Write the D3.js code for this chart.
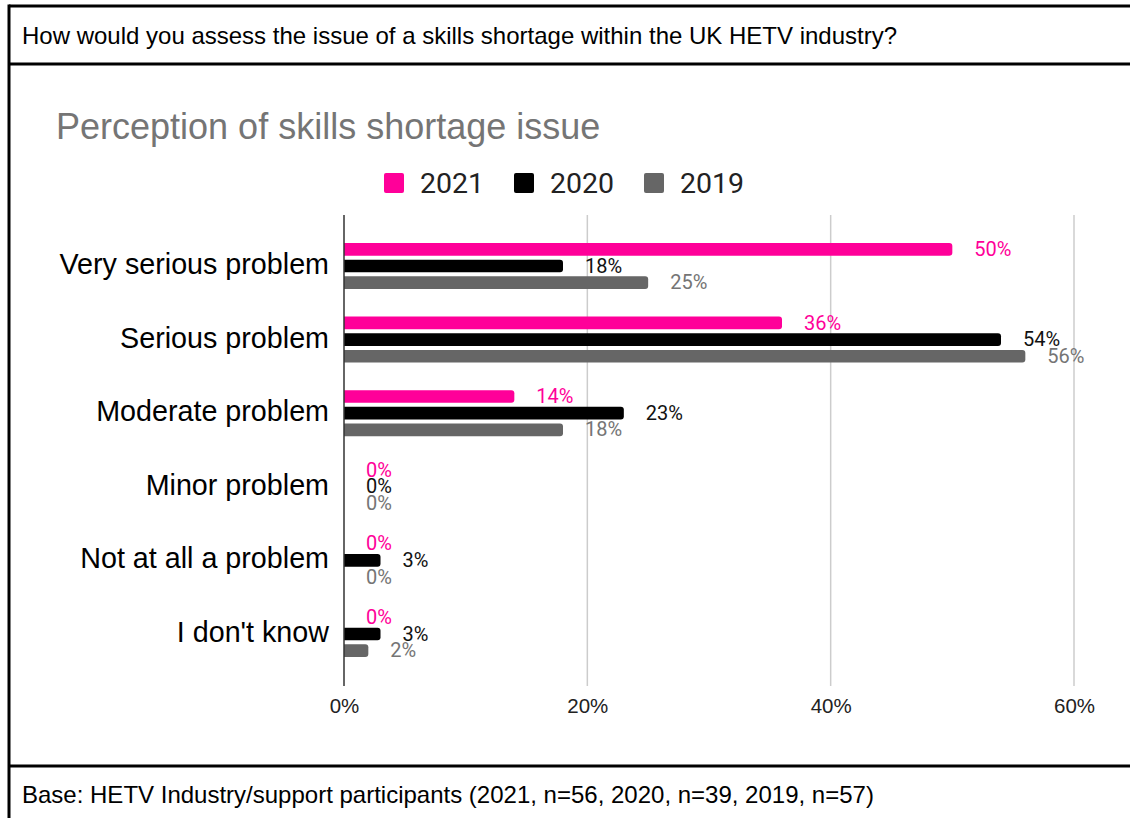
<!DOCTYPE html>
<html>
<head>
<meta charset="utf-8">
<script src="https://cdn.jsdelivr.net/npm/d3@7"></script>
<style>
  html, body { margin: 0; padding: 0; background: #fff; }
  svg { display: block; }
</style>
</head>
<body>
<svg id="chart" width="1130" height="818"></svg>
<script>
// Survey answers and the share of respondents (in %) for each year
const categories = [
  "Very serious problem",
  "Serious problem",
  "Moderate problem",
  "Minor problem",
  "Not at all a problem",
  "I don't know"
];
const seriesNames = ["2021", "2020", "2019"];
const values2021 = [50, 36, 14, 0, 0, 0];
const values2020 = [18, 54, 23, 0, 3, 3];
const values2019 = [25, 56, 18, 0, 0, 2];
const xTicks = [0, 20, 40, 60];

const questionText = "How would you assess the issue of a skills shortage within the UK HETV industry?";
const chartTitle = "Perception of skills shortage issue";
const baseText = "Base: HETV Industry/support participants (2021, n=56, 2020, n=39, 2019, n=57)";

const barColors = { "2021": "#ff0099", "2020": "#000000", "2019": "#666666" };
const labelColors = { "2021": "#ff0099", "2020": "#111111", "2019": "#757575" };

const seriesValues = { "2021": values2021, "2020": values2020, "2019": values2019 };

const svg = d3.select("#chart");
const W = 1130, H = 818;

// Frame lines of the table-like layout
const frame = svg.append("g").attr("stroke", "#000").attr("stroke-width", 3);
frame.append("line").attr("x1", 9).attr("x2", W).attr("y1", 6).attr("y2", 6);
frame.append("line").attr("x1", 9).attr("x2", W).attr("y1", 64).attr("y2", 64);
frame.append("line").attr("x1", 9).attr("x2", W).attr("y1", 766).attr("y2", 766);
frame.append("line").attr("x1", 9).attr("x2", 9).attr("y1", 4.5).attr("y2", H);

svg.append("text")
  .attr("x", 22).attr("y", 44)
  .attr("font-family", "Liberation Sans, Arial, sans-serif")
  .attr("font-size", 24)
  .attr("fill", "#000")
  .text(questionText);

svg.append("text")
  .attr("x", 22).attr("y", 803)
  .attr("font-family", "Liberation Sans, Arial, sans-serif")
  .attr("font-size", 24)
  .attr("fill", "#000")
  .text(baseText);

// Chart title
svg.append("text")
  .attr("x", 56).attr("y", 139)
  .attr("font-family", "Liberation Sans, Arial, sans-serif")
  .attr("font-size", 36)
  .attr("fill", "#757575")
  .text(chartTitle);

// Legend
const legend = svg.append("g").attr("transform", "translate(384,173)");
const legendItem = legend.selectAll("g").data(seriesNames).join("g")
  .attr("transform", (d, i) => `translate(${i * 130},0)`);
legendItem.append("rect")
  .attr("width", 20).attr("height", 20).attr("rx", 2)
  .attr("fill", d => barColors[d]);
legendItem.append("text")
  .attr("x", 36).attr("y", 20)
  .attr("font-family", "Roboto, sans-serif")
  .attr("font-size", 28.5)
  .attr("fill", "#222")
  .text(d => d);

// Scales
const x = d3.scaleLinear().domain([0, 60]).range([344, 1074]);
const y = d3.scaleBand().domain(categories)
  .range([229.2, 670.8]).paddingInner(0.375).paddingOuter(0.1875);
const ySub = d3.scaleBand().domain(seriesNames)
  .range([0, y.bandwidth()]).paddingInner(0.24).paddingOuter(0);

const gridTop = 215, gridBottom = 686;

// Vertical gridlines
svg.append("g").selectAll("line").data(xTicks.filter(t => t !== 0)).join("line")
  .attr("x1", d => x(d)).attr("x2", d => x(d))
  .attr("y1", gridTop).attr("y2", gridBottom)
  .attr("stroke", "#cccccc").attr("stroke-width", 1.5);

// Tick labels via a bottom axis without its domain/tick lines
const xAxis = d3.axisBottom(x).tickValues(xTicks).tickSize(0).tickPadding(0)
  .tickFormat(d => d + "%");
const axisG = svg.append("g").attr("transform", `translate(0,${gridBottom + 27})`).call(xAxis);
axisG.select(".domain").remove();
axisG.selectAll("text")
  .attr("dy", 0)
  .attr("font-family", "Liberation Sans, Arial, sans-serif")
  .attr("font-size", 20.5)
  .attr("fill", "#222");

// Category labels
svg.append("g").selectAll("text").data(categories).join("text")
  .attr("x", 329)
  .attr("y", d => y(d) + y.bandwidth() / 2 + 8)
  .attr("text-anchor", "end")
  .attr("font-family", "Liberation Sans, Arial, sans-serif")
  .attr("font-size", 28.7)
  .attr("fill", "#000")
  .text(d => d);

// Flattened bar records
const records = [];
categories.forEach((c, ci) => {
  seriesNames.forEach(s => {
    records.push({ category: c, series: s, value: seriesValues[s][ci] });
  });
});

// Bars with rounded right ends
function barPath(d) {
  const x0 = x(0), x1 = x(d.value);
  const y0 = y(d.category) + ySub(d.series);
  const h = ySub.bandwidth();
  const r = Math.min(3, (x1 - x0) / 2, h / 2);
  return `M${x0},${y0}H${x1 - r}Q${x1},${y0} ${x1},${y0 + r}V${y0 + h - r}Q${x1},${y0 + h} ${x1 - r},${y0 + h}H${x0}Z`;
}
svg.append("g").selectAll("path").data(records.filter(d => d.value > 0)).join("path")
  .attr("d", barPath)
  .attr("fill", d => barColors[d.series]);

// Axis line at 0%
svg.append("line")
  .attr("x1", x(0)).attr("x2", x(0))
  .attr("y1", gridTop).attr("y2", gridBottom)
  .attr("stroke", "#333").attr("stroke-width", 1.5);

// Value labels
svg.append("g").selectAll("text").data(records).join("text")
  .attr("x", d => x(d.value) + 22)
  .attr("y", d => y(d.category) + ySub(d.series) + ySub.bandwidth() / 2)
  .attr("dy", "0.33em")
  .attr("font-family", "Roboto, sans-serif")
  .attr("font-size", 20)
  .attr("fill", d => labelColors[d.series])
  .text(d => d.value + "%");
</script>
</body>
</html>
